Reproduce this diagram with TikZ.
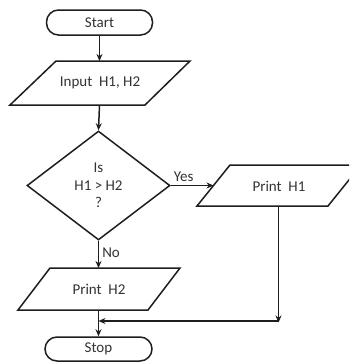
\documentclass[tikz,border=0pt]{standalone}
\usepackage{fontspec}
\setmainfont{Carlito}
\usetikzlibrary{arrows.meta,shapes.geometric}
\definecolor{ln}{HTML}{1E1E1E}
\definecolor{tx}{HTML}{333333}
\begin{document}
\begin{tikzpicture}[x=1pt,y=-1pt,
  lbl/.style={text=tx,font=\fontsize{15}{17.5}\selectfont,inner sep=0pt},
  outline/.style={draw=ln,line width=1.5pt,line join=miter},
  terminal/.style={outline,rectangle,rounded corners=12pt,minimum width=106pt,minimum height=25pt,inner sep=0pt,text=tx,font=\fontsize{15}{17.5}\selectfont},
  decision/.style={outline,diamond,minimum width=143pt,minimum height=109pt,inner sep=0pt,align=center,text=tx,font=\fontsize{15}{17.5}\selectfont},
  flow/.style={draw=ln,line width=1.5pt,-{Stealth[length=7pt,width=6pt]}}]
\clip (0,0) rectangle (349,362);
\fill[white] (0,0) rectangle (349,362);
% start
\node[terminal] (start) at (99.5,22.5) {Start};
% input parallelogram
\draw[outline] (56,61) -- (190,61) -- (145,105) -- (10,105) -- cycle;
\node[lbl] (input) at (100,83) {Input\ \ H1, H2};
\coordinate (inT) at (99.5,61);
\coordinate (inB) at (99.5,105);
% decision
\node[decision] (dec) at (98.5,185.5) {Is\\H1 > H2\\?};
% print H1
\draw[outline] (230,165) -- (361,165) -- (328,206) -- (197,206) -- cycle;
\node[lbl] (pa) at (279,186) {Print\ \ H1};
\coordinate (paL) at (213.5,185.5);
\coordinate (paB) at (278.5,206);
\coordinate (paC) at (278.5,321);
% print H2
\draw[outline] (50,268) -- (180,268) -- (148,310) -- (18,310) -- cycle;
\node[lbl] (pb) at (99,289) {Print\ \ H2};
\coordinate (pbT) at (98.5,268);
\coordinate (pbB) at (98.5,310);
\coordinate (join) at (98.5,321);
% stop
\node[terminal,minimum width=107pt,minimum height=24pt] (stop) at (98.5,349) {Stop};
% connectors
\draw[flow] (start.south) -- (inT);
\draw[flow] (inB) -- (dec.north);
\draw[flow] (dec.east) -- node[lbl,pos=0.3,above=3pt]{Yes} (paL);
\draw[flow] (dec.south) -- node[lbl,pos=0.45,right=3pt]{No} (pbT);
\draw[flow] (paB) -- ([yshift=-1.5pt]paC);
\draw[flow] (paC) -- (join);
\draw[flow] (pbB) -- (stop.north);
\end{tikzpicture}
\end{document}
